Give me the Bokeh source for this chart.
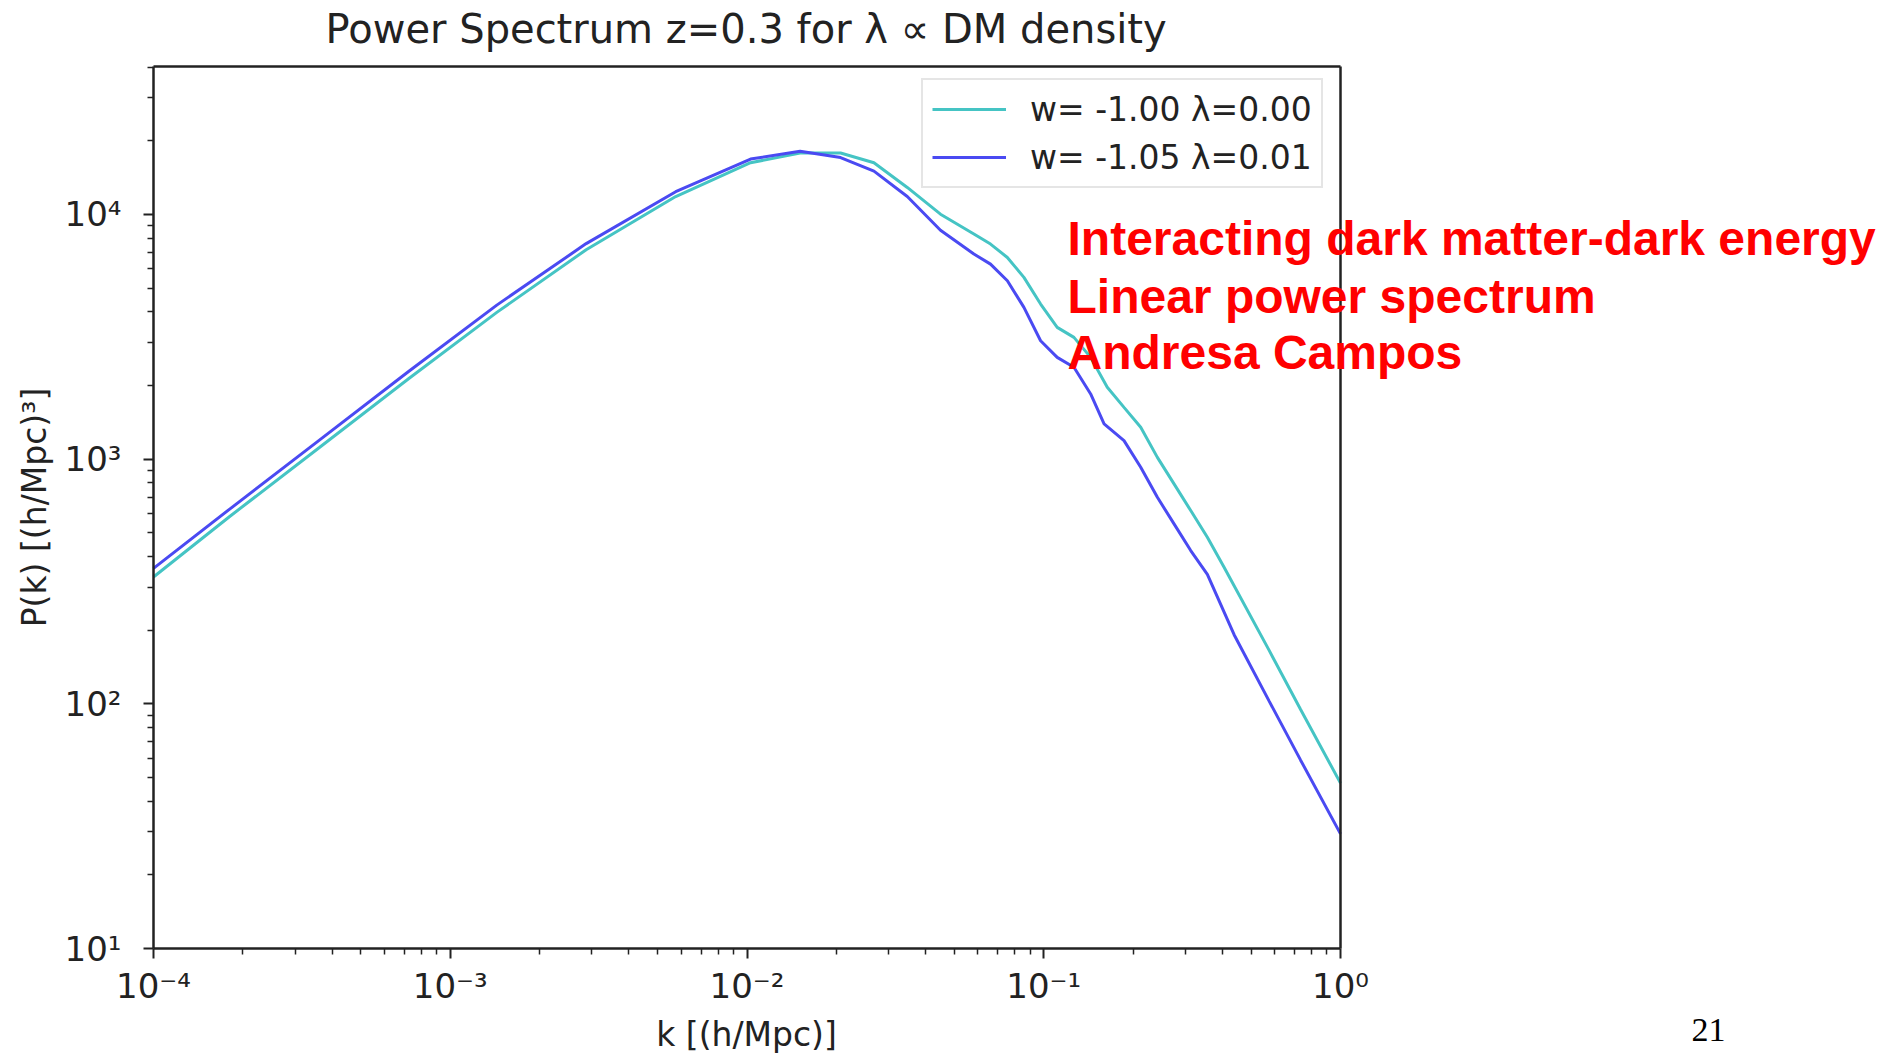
import math
from bokeh.plotting import figure
from bokeh.models import FixedTicker, Label, Legend, LegendItem, LogAxis, Range1d
from bokeh.embed import file_html
from bokeh.resources import INLINE

# ---------------- data ----------------
title_text = "Power Spectrum z=0.3 for λ ∝  DM density"
x_label = "k [(h/Mpc)]"
y_label = "P(k) [(h/Mpc)³]"
series_labels = ["w= -1.00 λ=0.00", "w= -1.05 λ=0.01"]

k_lcdm = [1.000e-4, 1.806e-4, 3.614e-4, 7.236e-4, 1.435e-3, 2.871e-3, 5.751e-3,
          1.028e-2, 1.510e-2, 2.067e-2, 2.678e-2, 3.468e-2, 4.488e-2, 5.815e-2,
          6.617e-2, 7.540e-2, 8.574e-2, 9.759e-2, 0.1110, 0.1264, 0.1439, 0.1637,
          0.1864, 0.2122, 0.2415, 0.2748, 0.3128, 0.3559, 0.4052, 0.5749, 0.7338, 1.0]
p_lcdm = [330, 583, 1114, 2131, 3981, 7178, 11840,
          16280, 17820, 17830, 16280, 12900, 10030, 8323,
          7569, 6674, 5534, 4305, 3457, 3146, 2606, 1966,
          1628, 1350, 1017, 792.4, 616.4, 479.5, 361.7, 165.4, 94.8, 47.4]

k_idm = [1.000e-4, 1.806e-4, 3.614e-4, 7.236e-4, 1.435e-3, 2.871e-3, 5.751e-3,
         1.028e-2, 1.510e-2, 2.067e-2, 2.678e-2, 3.468e-2, 4.488e-2, 5.815e-2,
         6.617e-2, 7.540e-2, 8.574e-2, 9.759e-2, 0.1110, 0.1264, 0.1439, 0.1597,
         0.1864, 0.2122, 0.2415, 0.2748, 0.3128, 0.3559, 0.4380, 0.5749, 0.7338, 1.0]
p_idm = [358, 625, 1194, 2281, 4261, 7604, 12390,
         16850, 18140, 17090, 15040, 11840, 8618, 6890,
         6270, 5359, 4171, 3048, 2606, 2374, 1847, 1394,
         1191, 926.6, 698.4, 543.8, 423.1, 338.3, 191.7, 102.6, 58.85, 29.4]

x_ticks = [1e-4, 1e-3, 1e-2, 1e-1, 1.0]
x_tick_labels = ["10⁻⁴", "10⁻³", "10⁻²", "10⁻¹", "10⁰"]
y_ticks = [10, 100, 1000, 10000]
y_tick_labels = ["10¹", "10²", "10³", "10⁴"]

notes = ["Interacting dark matter-dark energy", "Linear power spectrum", "Andresa Campos"]
page_number = "21"

# ---------------- page geometry (pixels) ----------------
W, H = 1894, 1055
BOX_L, BOX_R, BOX_T, BOX_B = 153, 1340, 66, 948   # plot box on the page
X_MIN, X_MAX = 1e-4, 1.0                          # k range of the box
Y_MIN = 10.0                                      # P at box bottom
PX_X = (BOX_R - BOX_L) / math.log10(X_MAX / X_MIN)  # pixels per decade in k
PX_Y = 244.67                                     # pixels per decade in P
Y_MAX = Y_MIN * 10 ** ((BOX_B - BOX_T) / PX_Y)    # P at box top


def kx(px):
    """k value at page pixel column px"""
    return X_MIN * 10 ** ((px - BOX_L) / PX_X)


def py(px):
    """P value at page pixel row px"""
    return Y_MIN * 10 ** ((BOX_B - px) / PX_Y)


# the frame covers the whole page; axes are pinned to the plot box
p = figure(width=W, height=H, x_axis_type="log", y_axis_type="log",
           x_range=Range1d(kx(0), kx(W)), y_range=Range1d(py(H), py(0)),
           output_backend="svg", toolbar_location=None,
           min_border=0, min_border_left=0, min_border_right=0,
           min_border_top=0, min_border_bottom=0)
p.background_fill_color = "white"
p.border_fill_color = "white"
p.outline_line_color = None
p.xgrid.grid_line_color = None
p.ygrid.grid_line_color = None

x_minor = [m * 10.0 ** e for e in range(-4, 0) for m in range(2, 10)]
y_minor = [m * 10.0 ** e for e in range(1, 5) for m in range(2, 10)
           if m * 10.0 ** e <= Y_MAX]

AX = "#222222"


def style_axis(ax):
    ax.axis_line_color = AX
    ax.axis_line_width = 2.5
    ax.major_tick_line_color = AX
    ax.minor_tick_line_color = AX
    ax.major_tick_line_width = 2
    ax.minor_tick_line_width = 1.5
    ax.major_tick_in = 0
    ax.major_tick_out = 10
    ax.minor_tick_in = 0
    ax.minor_tick_out = 6
    ax.major_label_text_font = "DejaVu Sans"
    ax.major_label_text_font_size = "34px"
    ax.major_label_text_color = AX


xa = p.xaxis[0]
style_axis(xa)
xa.ticker = FixedTicker(ticks=x_ticks, minor_ticks=x_minor)
xa.major_label_overrides = {t: s for t, s in zip(x_ticks, x_tick_labels)}
xa.fixed_location = Y_MIN
xa.bounds = (X_MIN, X_MAX)
xa.major_label_standoff = 7

ya = p.yaxis[0]
style_axis(ya)
ya.ticker = FixedTicker(ticks=y_ticks, minor_ticks=y_minor)
ya.major_label_overrides = {t: s for t, s in zip(y_ticks, y_tick_labels)}
ya.fixed_location = X_MIN
ya.bounds = (Y_MIN, Y_MAX)
ya.major_label_standoff = 22

# top and right spines of the box
top_ax = LogAxis(fixed_location=Y_MAX, bounds=(X_MIN, X_MAX),
                 ticker=FixedTicker(ticks=[], minor_ticks=[]))
right_ax = LogAxis(fixed_location=X_MAX, bounds=(Y_MIN, Y_MAX),
                   ticker=FixedTicker(ticks=[], minor_ticks=[]))
for ax in (top_ax, right_ax):
    style_axis(ax)
    ax.major_tick_out = 0
    ax.minor_tick_out = 0
p.add_layout(top_ax, "above")
p.add_layout(right_ax, "right")

# curves
r_lcdm = p.line(k_lcdm, p_lcdm, line_color="#45c4c4", line_width=3)
r_idm = p.line(k_idm, p_idm, line_color="#4a4af2", line_width=3)

# legend (upper right inside the box)
LEG_W, LEG_H = 402, 106
legend = Legend(items=[LegendItem(label=series_labels[0], renderers=[r_lcdm]),
                       LegendItem(label=series_labels[1], renderers=[r_idm])],
                location=(1323 - LEG_W, H - (82 + LEG_H)))
legend.label_text_font = "DejaVu Sans"
legend.label_text_font_size = "33px"
legend.label_text_color = AX
legend.glyph_width = 74
legend.glyph_height = 40
legend.label_height = 40
legend.label_standoff = 24
legend.padding = 9
legend.spacing = 8
legend.margin = 0
legend.border_line_color = "#cccccc"
legend.border_line_width = 2
legend.background_fill_alpha = 0.85
p.add_layout(legend)

# title and axis labels (text centred on the given page rows / columns)
p.add_layout(Label(x=kx(752), y=py(28), text=title_text, text_color=AX,
                   text_font="DejaVu Sans", text_font_size="40px",
                   text_align="center", text_baseline="middle"))
p.add_layout(Label(x=kx(746), y=py(1034), text=x_label, text_color=AX,
                   text_font="DejaVu Sans", text_font_size="33px",
                   text_align="center", text_baseline="middle"))
p.add_layout(Label(x=kx(34), y=py(507), text=y_label, text_color=AX,
                   text_font="DejaVu Sans", text_font_size="33px",
                   angle=math.pi / 2,
                   text_align="center", text_baseline="middle"))

# red annotation block
for txt, ypx in zip(notes, [238, 296, 352]):
    p.add_layout(Label(x=kx(1067), y=py(ypx), text=txt, text_color="#ff0000",
                       text_font="Liberation Sans", text_font_style="bold",
                       text_font_size="48px", text_baseline="middle",
                       text_align="left"))

# slide page number
p.add_layout(Label(x=kx(1708), y=py(1029), text=page_number, text_color="black",
                   text_font="Liberation Serif", text_font_size="34px",
                   text_baseline="middle", text_align="center"))

open("out.html", "w").write(file_html(p, INLINE))
